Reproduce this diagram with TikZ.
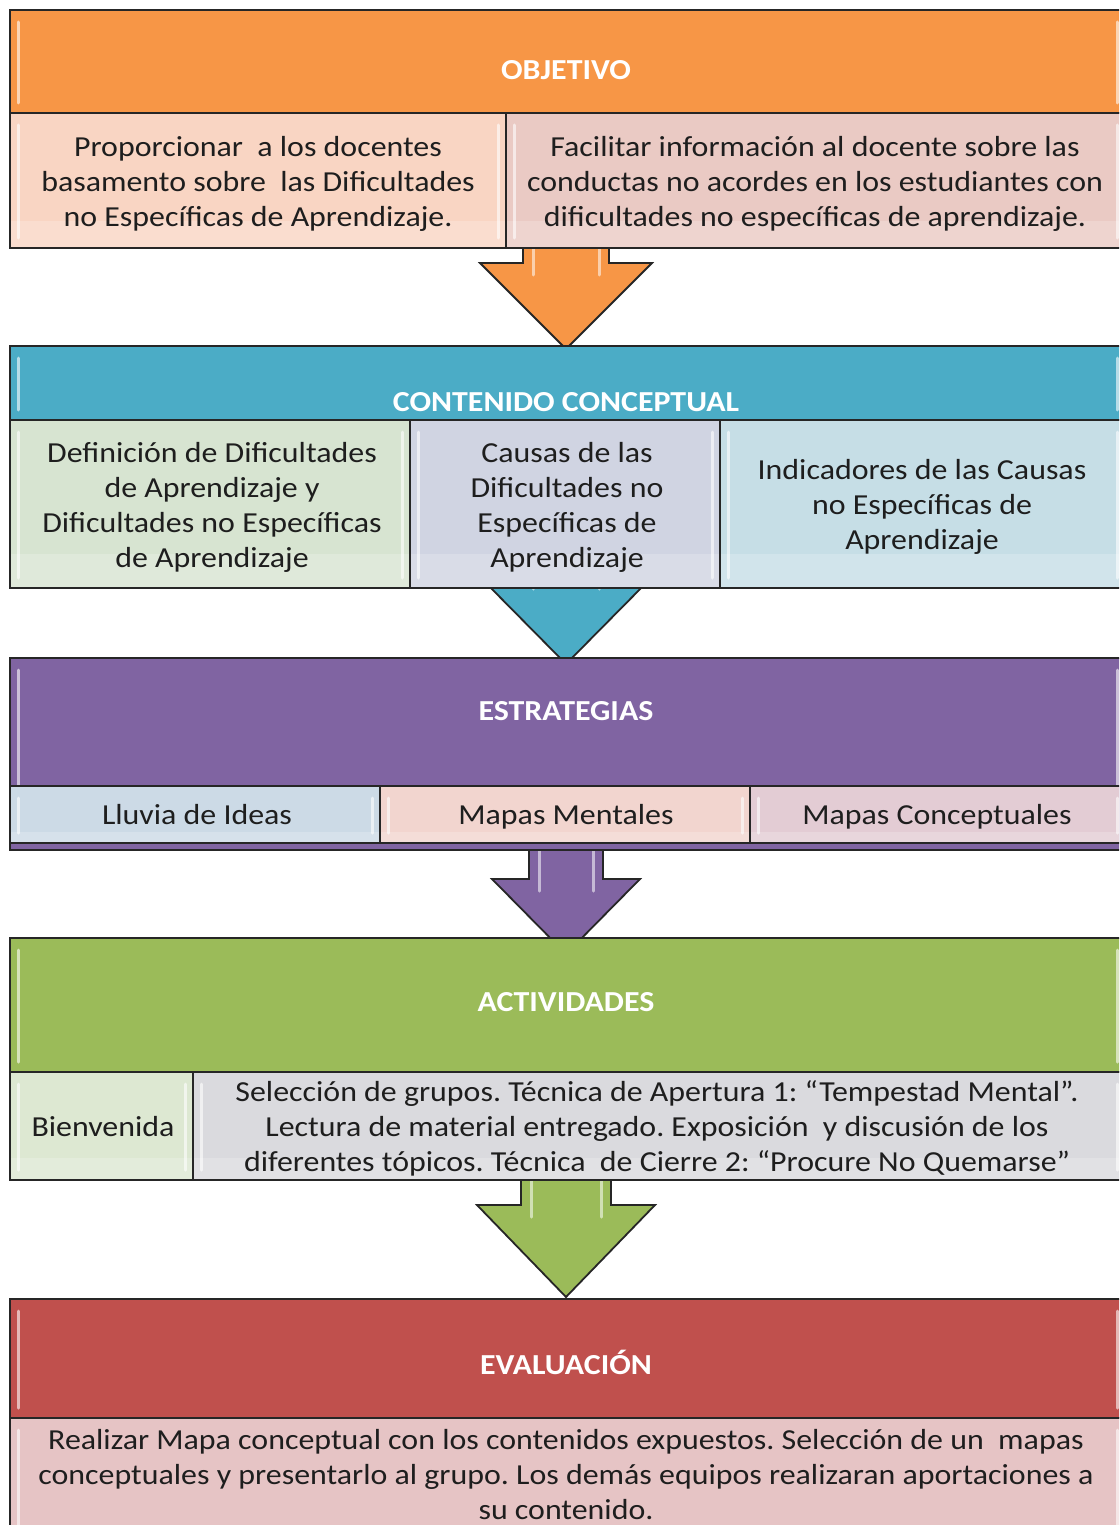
\documentclass[tikz,border=0pt]{standalone}
\usepackage{fontspec}
\setmainfont{Carlito}[FakeStretch=1.1]
\usetikzlibrary{fit}
\definecolor{cOrange}{HTML}{F79646}
\definecolor{cBlue}{HTML}{4BACC6}
\definecolor{cPurple}{HTML}{8064A2}
\definecolor{cGreen}{HTML}{9BBB59}
\definecolor{cRed}{HTML}{C0504D}
\definecolor{fObjL}{HTML}{F9D5C3}
\definecolor{fObjR}{HTML}{EACAC4}
\definecolor{fCcA}{HTML}{D7E4D1}
\definecolor{fCcB}{HTML}{D0D4E2}
\definecolor{fCcC}{HTML}{C6DEE6}
\definecolor{fEsA}{HTML}{CCDAE6}
\definecolor{fEsB}{HTML}{F2D5CF}
\definecolor{fEsC}{HTML}{E3CCD4}
\definecolor{fAcA}{HTML}{DDE8D2}
\definecolor{fAcB}{HTML}{DADADE}
\definecolor{fEva}{HTML}{E6C4C5}
\definecolor{txtcol}{HTML}{1E1E1E}
\newcommand\flowarr[7]{%
  \filldraw[fill=#1, draw=black!85, line width=0.9pt, line join=miter]
    (#2-#6,#3) -- (#2-#6,#4) -- (#2-#7,#4) -- (#2,#5) -- (#2+#7,#4) -- (#2+#6,#4) -- (#2+#6,#3) -- cycle;
  \draw[white, opacity=0.55, line width=1.5pt, line cap=round] (#2-#6+10,#3+4) -- (#2-#6+10,#4+12);
  \draw[white, opacity=0.55, line width=1.5pt, line cap=round] (#2+#6-10,#3+4) -- (#2+#6-10,#4+12);
}
\newcommand\glossH[4]{%
  \draw[white, opacity=0.6, line width=1.5pt, line cap=round] (#1+8,#2+12) -- (#1+8,#4-10);
  \draw[white, opacity=0.6, line width=1.5pt, line cap=round] (#3-8,#2+12) -- (#3-8,#4-10);
}
\newcommand\glossS[4]{%
  \fill[white, opacity=0.2] (#1+1,{#4-(#4-#2)*0.2}) rectangle (#3-1,#4-1);
  \glossH{#1}{#2}{#3}{#4}%
}
\begin{document}
\frenchspacing
\begin{tikzpicture}[x=0.5pt,y=-0.5pt,
  box/.style={draw=black!85, line width=0.9pt, inner sep=0pt},
  txt/.style={font=\fontsize{14.5}{17.5}\selectfont, text=txtcol, align=center, inner sep=0pt},
  hdr/.style={font=\bfseries\fontsize{14.5}{17}\selectfont, text=white, inner sep=0pt}]
\useasboundingbox (0,0) rectangle (1119,1525);
\clip (0,0) rectangle (1119,1525);
\fill[white] (0,0) rectangle (1119,1525);

% arrows (behind boxes)
\flowarr{cOrange}{566}{240}{263}{349}{43}{86}
\flowarr{cBlue}{566}{560}{577}{664}{43}{86}
\flowarr{cPurple}{566}{845}{879}{954}{37}{74}
\flowarr{cGreen}{566}{1175}{1205}{1297}{45}{89}

% OBJETIVO
\node[box, fill=cOrange, fit={(10,10) (1125,113)}] (objH) {};
\glossH{10}{10}{1125}{113}
\node[box, fill=fObjL, fit={(10,113) (506,248)}] (objL) {};
\glossS{10}{113}{506}{248}
\node[box, fill=fObjR, fit={(506,113) (1125,248)}] (objR) {};
\glossS{506}{113}{1125}{248}
\node[hdr] (objT) at (566,70) {OBJETIVO};
\node[txt] (objLT) at (258,184) {Proporcionar~ a los docentes\\basamento sobre~ las Dificultades\\no Específicas de Aprendizaje.};
\node[txt] (objRT) at (815,184) {Facilitar información al docente sobre las\\conductas no acordes en los estudiantes con\\dificultades no específicas de aprendizaje.};

% CONTENIDO CONCEPTUAL
\node[box, fill=cBlue, fit={(10,346) (1125,420)}] (ccH) {};
\glossH{10}{346}{1125}{420}
\node[box, fill=fCcA, fit={(10,420) (410,588)}] (ccA) {};
\glossS{10}{420}{410}{588}
\node[box, fill=fCcB, fit={(410,420) (720,588)}] (ccB) {};
\glossS{410}{420}{720}{588}
\node[box, fill=fCcC, fit={(720,420) (1125,588)}] (ccC) {};
\glossS{720}{420}{1125}{588}
\node[hdr] (ccT) at (566,402) {CONTENIDO CONCEPTUAL};
\node[txt] (ccAT) at (212,507) {Definición de Dificultades\\de Aprendizaje y\\Dificultades no Específicas\\de Aprendizaje};
\node[txt] (ccBT) at (567,507) {Causas de las\\Dificultades no\\Específicas de\\Aprendizaje};
\node[txt] (ccCT) at (922,507) {Indicadores de las Causas\\no Específicas de\\Aprendizaje};

% ESTRATEGIAS
\node[box, fill=cPurple, fit={(10,658) (1125,850)}] (esH) {};
\glossH{10}{658}{1125}{850}
\node[box, fill=fEsA, fit={(10,786) (380,843)}] (esA) {};
\glossS{10}{786}{380}{843}
\node[box, fill=fEsB, fit={(380,786) (750,843)}] (esB) {};
\glossS{380}{786}{750}{843}
\node[box, fill=fEsC, fit={(750,786) (1125,843)}] (esC) {};
\glossS{750}{786}{1125}{843}
\node[hdr] (esT) at (566,711) {ESTRATEGIAS};
\node[txt, anchor=base] (esAT) at (197,824) {Lluvia de Ideas};
\node[txt, anchor=base] (esBT) at (566,824) {Mapas Mentales};
\node[txt, anchor=base] (esCT) at (937,824) {Mapas Conceptuales};

% ACTIVIDADES
\node[box, fill=cGreen, fit={(10,938) (1125,1072)}] (acH) {};
\glossH{10}{938}{1125}{1072}
\node[box, fill=fAcA, fit={(10,1072) (193,1180)}] (acA) {};
\glossS{10}{1072}{193}{1180}
\node[box, fill=fAcB, fit={(193,1072) (1125,1180)}] (acB) {};
\glossS{193}{1072}{1125}{1180}
\node[hdr] (acT) at (566,1002) {ACTIVIDADES};
\node[txt] (acAT) at (103,1127) {Bienvenida};
\node[txt] (acBT) at (657,1128) {Selección de grupos. Técnica de Apertura 1: “Tempestad Mental”.\\Lectura de material entregado. Exposición~ y discusión de los\\diferentes tópicos. Técnica~ de Cierre 2: “Procure No Quemarse”};

% EVALUACION
\node[box, fill=cRed, fit={(10,1299) (1125,1418)}] (evH) {};
\glossH{10}{1299}{1125}{1418}
\node[box, fill=fEva, fit={(10,1418) (1125,1540)}] (evA) {};
\glossH{10}{1418}{1125}{1540}
\node[hdr] (evT) at (566,1362) {EVALUACIÓN};
\node[txt] (evAT) at (566,1475) {Realizar Mapa conceptual con los contenidos expuestos. Selección de un~ mapas\\conceptuales y presentarlo al grupo. Los demás equipos realizaran aportaciones a\\su contenido.};
\end{tikzpicture}
\end{document}
